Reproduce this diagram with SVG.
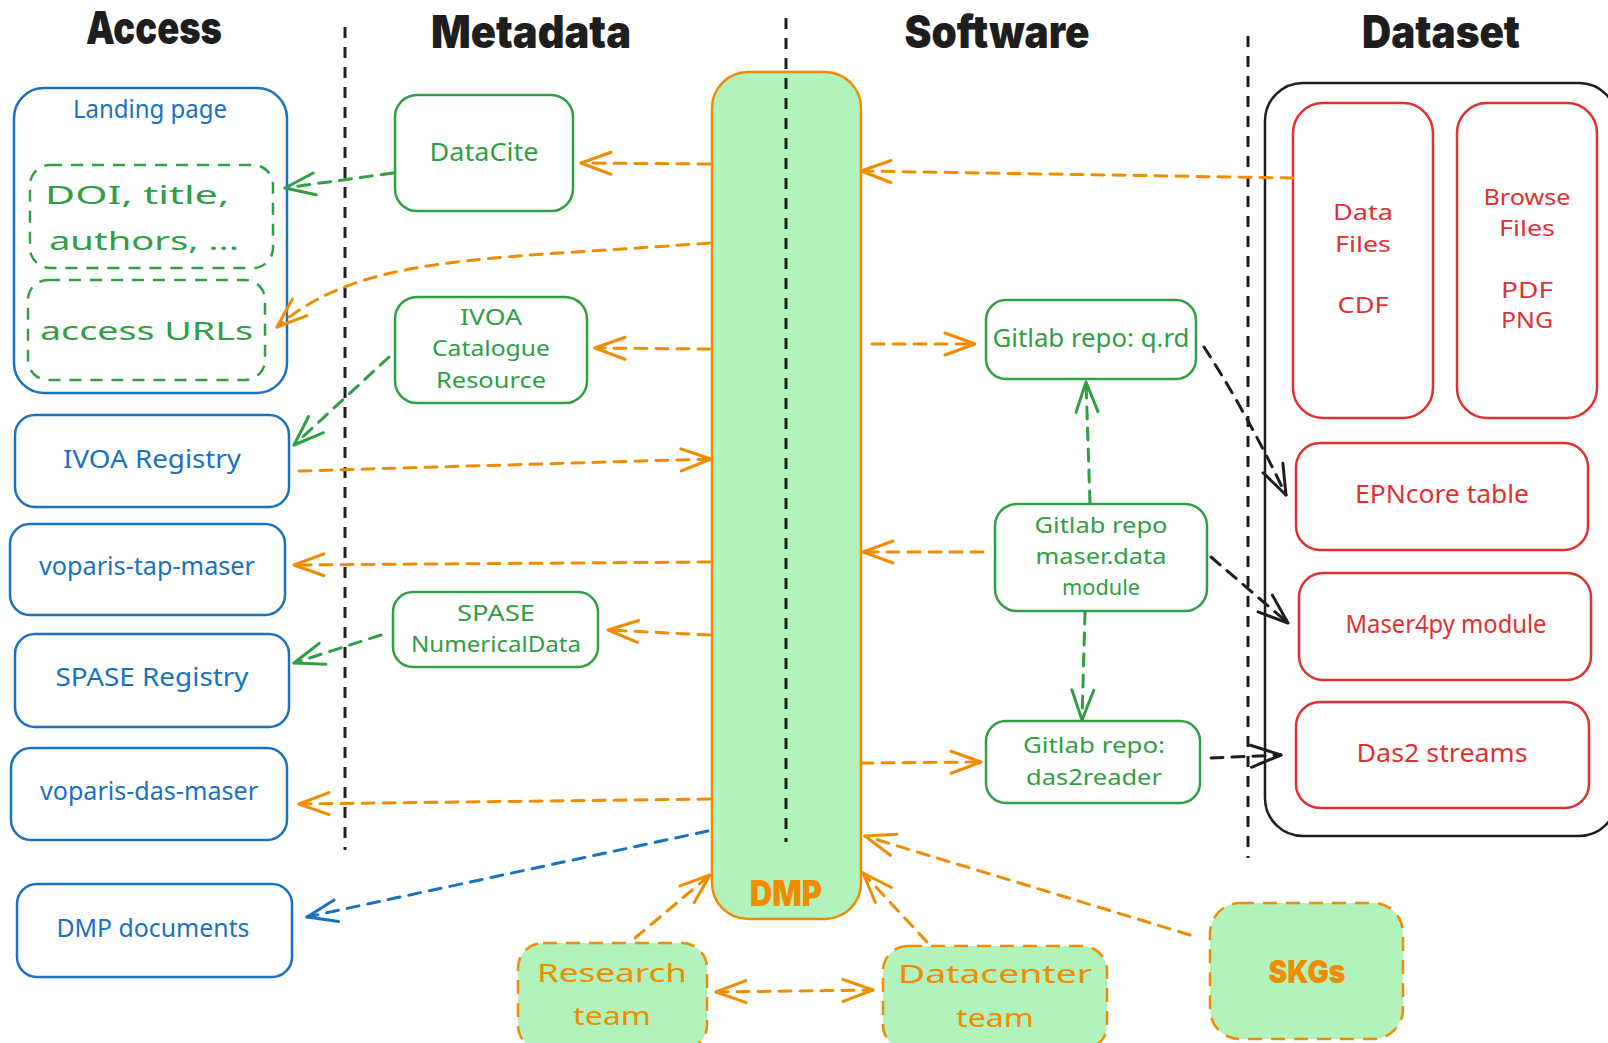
<svg xmlns="http://www.w3.org/2000/svg" width="1608" height="1043" viewBox="0 0 1608 1043">
  <style>
    .hand { font-family: "Noto Sans", "DejaVu Sans", sans-serif; font-size: 25px; }
    .small { font-size: 22px; }
    .head { font-family: "Inter", "DejaVu Sans", sans-serif; font-weight: 900; font-size: 45px; fill: #1e1e1e; }
    .heavy { font-family: "Inter", "DejaVu Sans", sans-serif; font-weight: 900; fill: #f08c00; }
    .blue { fill: #1971c2; }
    .green { fill: #2f9e44; }
    .red { fill: #e03131; }
    .orange { fill: #f08c00; }
    .box { fill: #ffffff; stroke-width: 2.5; }
    .bblue { stroke: #1971c2; }
    .bgreen { stroke: #2f9e44; }
    .bred { stroke: #e03131; }
    .bblack { stroke: #1e1e1e; fill: none; }
    .dashbox { fill: none; stroke: #2f9e44; stroke-width: 2.5; stroke-dasharray: 12 9; }
    .team { fill: #b2f2bb; stroke: #f08c00; stroke-width: 2.5; stroke-dasharray: 14 9; }
    .lane { stroke: #1e1e1e; stroke-width: 3; stroke-dasharray: 11 9; fill: none; }
    .c { fill: none; stroke-width: 3; stroke-dasharray: 12 9; stroke-linecap: round; }
    .co { stroke: #f08c00; marker-end: url(#ah-o); }
    .cg { stroke: #2f9e44; marker-end: url(#ah-g); }
    .ck { stroke: #1e1e1e; marker-end: url(#ah-k); }
    .cb { stroke: #1971c2; marker-end: url(#ah-b); }
  </style>
  <defs>
    <marker id="ah-o" markerUnits="userSpaceOnUse" markerWidth="40" markerHeight="30" viewBox="-35 -15 40 30" refX="0" refY="0" orient="auto-start-reverse" overflow="visible">
      <path d="M-30,-11 L0,0 L-30,11" fill="none" stroke="#f08c00" stroke-width="3" stroke-linecap="round" stroke-linejoin="round"/>
    </marker>
    <marker id="ah-g" markerUnits="userSpaceOnUse" markerWidth="40" markerHeight="30" viewBox="-35 -15 40 30" refX="0" refY="0" orient="auto" overflow="visible">
      <path d="M-30,-11 L0,0 L-30,11" fill="none" stroke="#2f9e44" stroke-width="3" stroke-linecap="round" stroke-linejoin="round"/>
    </marker>
    <marker id="ah-k" markerUnits="userSpaceOnUse" markerWidth="40" markerHeight="30" viewBox="-35 -15 40 30" refX="0" refY="0" orient="auto" overflow="visible">
      <path d="M-30,-11 L0,0 L-30,11" fill="none" stroke="#1e1e1e" stroke-width="3" stroke-linecap="round" stroke-linejoin="round"/>
    </marker>
    <marker id="ah-b" markerUnits="userSpaceOnUse" markerWidth="40" markerHeight="30" viewBox="-35 -15 40 30" refX="0" refY="0" orient="auto" overflow="visible">
      <path d="M-30,-11 L0,0 L-30,11" fill="none" stroke="#1971c2" stroke-width="3" stroke-linecap="round" stroke-linejoin="round"/>
    </marker>
  </defs>

  <rect width="1608" height="1043" fill="#ffffff"/>

  <!-- column headings and lane separators -->
  <g id="headings">
    <text class="head" x="154" y="44" text-anchor="middle" textLength="136" lengthAdjust="spacingAndGlyphs">Access</text>
    <text class="head" x="531" y="48" text-anchor="middle" textLength="200" lengthAdjust="spacingAndGlyphs">Metadata</text>
    <text class="head" x="997" y="48" text-anchor="middle" textLength="185" lengthAdjust="spacingAndGlyphs">Software</text>
    <text class="head" x="1441" y="48" text-anchor="middle" textLength="158" lengthAdjust="spacingAndGlyphs">Dataset</text>
  </g>
  <g id="lanes">
    <line class="lane" x1="345" y1="27" x2="345" y2="850"/>
    <line class="lane" x1="1248" y1="36" x2="1248" y2="858"/>
  </g>

  <!-- DMP hub -->
  <g id="dmp">
    <rect x="712" y="72" width="149" height="847" rx="36" fill="#b2f2bb" stroke="#f08c00" stroke-width="2.5"/>
    <text class="heavy" x="786" y="906" font-size="36" text-anchor="middle" textLength="72" lengthAdjust="spacingAndGlyphs">DMP</text>
  </g>
  <g id="lane-dmp">
    <line class="lane" x1="786" y1="18" x2="786" y2="842"/>
  </g>

  <!-- Access column -->
  <g id="landing-page">
    <rect class="box bblue" x="14" y="88" width="273" height="305" rx="30" stroke-width="3"/>
    <text class="hand blue" x="150" y="118" font-size="23" text-anchor="middle" textLength="154" lengthAdjust="spacingAndGlyphs">Landing page</text>
  </g>
  <g id="landing-doi">
    <rect class="dashbox" x="30" y="165" width="243" height="103" rx="20"/>
    <text class="hand green" x="45" y="204" font-size="38" textLength="184" lengthAdjust="spacingAndGlyphs">DOI, title,</text>
    <text class="hand green" x="49" y="250" font-size="38" textLength="190" lengthAdjust="spacingAndGlyphs">authors, ...</text>
  </g>
  <g id="landing-urls">
    <rect class="dashbox" x="28" y="280" width="237" height="100" rx="20"/>
    <text class="hand green" x="40" y="340" font-size="38" textLength="213" lengthAdjust="spacingAndGlyphs">access URLs</text>
  </g>
  <g id="ivoa-registry">
    <rect class="box bblue" x="15" y="415" width="274" height="92" rx="20"/>
    <text class="hand blue" x="152" y="468" text-anchor="middle" textLength="178" lengthAdjust="spacingAndGlyphs">IVOA Registry</text>
  </g>
  <g id="voparis-tap-maser">
    <rect class="box bblue" x="10" y="524" width="275" height="91" rx="20"/>
    <text class="hand blue" x="147" y="575" text-anchor="middle" textLength="216" lengthAdjust="spacingAndGlyphs">voparis-tap-maser</text>
  </g>
  <g id="spase-registry">
    <rect class="box bblue" x="15" y="634" width="274" height="93" rx="20"/>
    <text class="hand blue" x="152" y="686" text-anchor="middle" textLength="193" lengthAdjust="spacingAndGlyphs">SPASE Registry</text>
  </g>
  <g id="voparis-das-maser">
    <rect class="box bblue" x="11" y="748" width="276" height="92" rx="20"/>
    <text class="hand blue" x="149" y="800" text-anchor="middle" textLength="218" lengthAdjust="spacingAndGlyphs">voparis-das-maser</text>
  </g>
  <g id="dmp-documents">
    <rect class="box bblue" x="17" y="884" width="275" height="93" rx="20"/>
    <text class="hand blue" x="153" y="937" text-anchor="middle" textLength="193" lengthAdjust="spacingAndGlyphs">DMP documents</text>
  </g>

  <!-- Metadata column -->
  <g id="datacite">
    <rect class="box bgreen" x="395" y="95" width="178" height="116" rx="22"/>
    <text class="hand green" x="484" y="161" text-anchor="middle" textLength="109" lengthAdjust="spacingAndGlyphs">DataCite</text>
  </g>
  <g id="ivoa-catalogue">
    <rect class="box bgreen" x="395" y="297" width="192" height="106" rx="22"/>
    <text class="hand green small" x="491" y="325" text-anchor="middle" textLength="62" lengthAdjust="spacingAndGlyphs">IVOA</text>
    <text class="hand green small" x="491" y="356" text-anchor="middle" textLength="118" lengthAdjust="spacingAndGlyphs">Catalogue</text>
    <text class="hand green small" x="491" y="388" text-anchor="middle" textLength="110" lengthAdjust="spacingAndGlyphs">Resource</text>
  </g>
  <g id="spase-numericaldata">
    <rect class="box bgreen" x="393" y="592" width="205" height="75" rx="20"/>
    <text class="hand green small" x="496" y="621" text-anchor="middle" textLength="78" lengthAdjust="spacingAndGlyphs">SPASE</text>
    <text class="hand green small" x="496" y="652" text-anchor="middle" textLength="170" lengthAdjust="spacingAndGlyphs">NumericalData</text>
  </g>

  <!-- Software column -->
  <g id="gitlab-qrd">
    <rect class="box bgreen" x="986" y="300" width="210" height="79" rx="20"/>
    <text class="hand green" x="1091" y="347" text-anchor="middle" textLength="197" lengthAdjust="spacingAndGlyphs">Gitlab repo: q.rd</text>
  </g>
  <g id="gitlab-maser-data">
    <rect class="box bgreen" x="995" y="504" width="212" height="107" rx="22"/>
    <text class="hand green small" x="1101" y="533" text-anchor="middle" textLength="133" lengthAdjust="spacingAndGlyphs">Gitlab repo</text>
    <text class="hand green small" x="1101" y="564" text-anchor="middle" textLength="131" lengthAdjust="spacingAndGlyphs">maser.data</text>
    <text class="hand green small" x="1101" y="595" text-anchor="middle" textLength="78" lengthAdjust="spacingAndGlyphs">module</text>
  </g>
  <g id="gitlab-das2reader">
    <rect class="box bgreen" x="986" y="721" width="214" height="82" rx="20"/>
    <text class="hand green small" x="1094" y="753" text-anchor="middle" textLength="142" lengthAdjust="spacingAndGlyphs">Gitlab repo:</text>
    <text class="hand green small" x="1094" y="785" text-anchor="middle" textLength="136" lengthAdjust="spacingAndGlyphs">das2reader</text>
  </g>

  <!-- Dataset column -->
  <g id="dataset">
    <rect class="box bblack" x="1265" y="83" width="352" height="753" rx="38"/>
  </g>
  <g id="data-files">
    <rect class="box bred" x="1293" y="103" width="140" height="315" rx="30"/>
    <text class="hand red small" x="1363" y="220" text-anchor="middle" textLength="60" lengthAdjust="spacingAndGlyphs">Data</text>
    <text class="hand red small" x="1363" y="252" text-anchor="middle" textLength="56" lengthAdjust="spacingAndGlyphs">Files</text>
    <text class="hand red small" x="1363" y="313" text-anchor="middle" textLength="51" lengthAdjust="spacingAndGlyphs">CDF</text>
  </g>
  <g id="browse-files">
    <rect class="box bred" x="1457" y="103" width="140" height="315" rx="30"/>
    <text class="hand red small" x="1527" y="205" text-anchor="middle" textLength="87" lengthAdjust="spacingAndGlyphs">Browse</text>
    <text class="hand red small" x="1527" y="236" text-anchor="middle" textLength="56" lengthAdjust="spacingAndGlyphs">Files</text>
    <text class="hand red small" x="1527" y="298" text-anchor="middle" textLength="52" lengthAdjust="spacingAndGlyphs">PDF</text>
    <text class="hand red small" x="1527" y="328" text-anchor="middle" textLength="52" lengthAdjust="spacingAndGlyphs">PNG</text>
  </g>
  <g id="epncore-table">
    <rect class="box bred" x="1296" y="443" width="292" height="107" rx="24"/>
    <text class="hand red" x="1442" y="503" text-anchor="middle" textLength="174" lengthAdjust="spacingAndGlyphs">EPNcore table</text>
  </g>
  <g id="maser4py-module">
    <rect class="box bred" x="1299" y="573" width="292" height="107" rx="24"/>
    <text class="hand red" x="1446" y="633" text-anchor="middle" textLength="201" lengthAdjust="spacingAndGlyphs">Maser4py module</text>
  </g>
  <g id="das2-streams">
    <rect class="box bred" x="1296" y="702" width="293" height="106" rx="24"/>
    <text class="hand red" x="1442" y="762" text-anchor="middle" textLength="171" lengthAdjust="spacingAndGlyphs">Das2 streams</text>
  </g>

  <!-- Actors -->
  <g id="research-team">
    <rect class="team" x="518" y="943" width="189" height="107" rx="25"/>
    <text class="hand orange" x="612" y="982" font-size="36" text-anchor="middle" textLength="150" lengthAdjust="spacingAndGlyphs">Research</text>
    <text class="hand orange" x="612" y="1025" font-size="36" text-anchor="middle" textLength="78" lengthAdjust="spacingAndGlyphs">team</text>
  </g>
  <g id="datacenter-team">
    <rect class="team" x="883" y="946" width="224" height="104" rx="25"/>
    <text class="hand orange" x="995" y="983" font-size="36" text-anchor="middle" textLength="194" lengthAdjust="spacingAndGlyphs">Datacenter</text>
    <text class="hand orange" x="995" y="1027" font-size="36" text-anchor="middle" textLength="78" lengthAdjust="spacingAndGlyphs">team</text>
  </g>
  <g id="skgs">
    <rect class="team" x="1210" y="903" width="193" height="136" rx="30"/>
    <text class="heavy" x="1307" y="983" font-size="32" text-anchor="middle" textLength="77" lengthAdjust="spacingAndGlyphs">SKGs</text>
  </g>

  <!-- connectors -->
  <g id="connectors">
    <path class="c co" d="M710,164 L581,163"/>
    <path class="c co" d="M710,243 C480,260 360,255 277,327"/>
    <path class="c co" d="M710,349 L595,348"/>
    <path class="c co" d="M299,471 L711,459"/>
    <path class="c co" d="M710,562 L294,565"/>
    <path class="c co" d="M710,635 L608,630"/>
    <path class="c co" d="M710,799 L299,804"/>
    <path class="c co" d="M1293,178 L861,171"/>
    <path class="c co" d="M872,344 L975,344"/>
    <path class="c co" d="M983,552 L863,552"/>
    <path class="c co" d="M861,763 L981,762"/>
    <path class="c co" d="M635,938 L710,875"/>
    <path class="c co" d="M927,942 L863,873"/>
    <path class="c co" d="M1190,935 L865,836"/>
    <path class="c co" d="M716,992 L873,990" marker-start="url(#ah-o)"/>

    <path class="c cg" d="M393,173 L285,188"/>
    <path class="c cg" d="M389,357 L294,445"/>
    <path class="c cg" d="M381,635 L294,663"/>
    <path class="c cg" d="M1090,503 L1086,382"/>
    <path class="c cg" d="M1085,612 L1082,720"/>

    <path class="c ck" d="M1204,347 Q1245,410 1286,495"/>
    <path class="c ck" d="M1211,557 L1288,623"/>
    <path class="c ck" d="M1211,758 L1281,755" stroke-dasharray="7 7"/>

    <path class="c cb" d="M708,831 L307,917"/>
  </g>
</svg>
